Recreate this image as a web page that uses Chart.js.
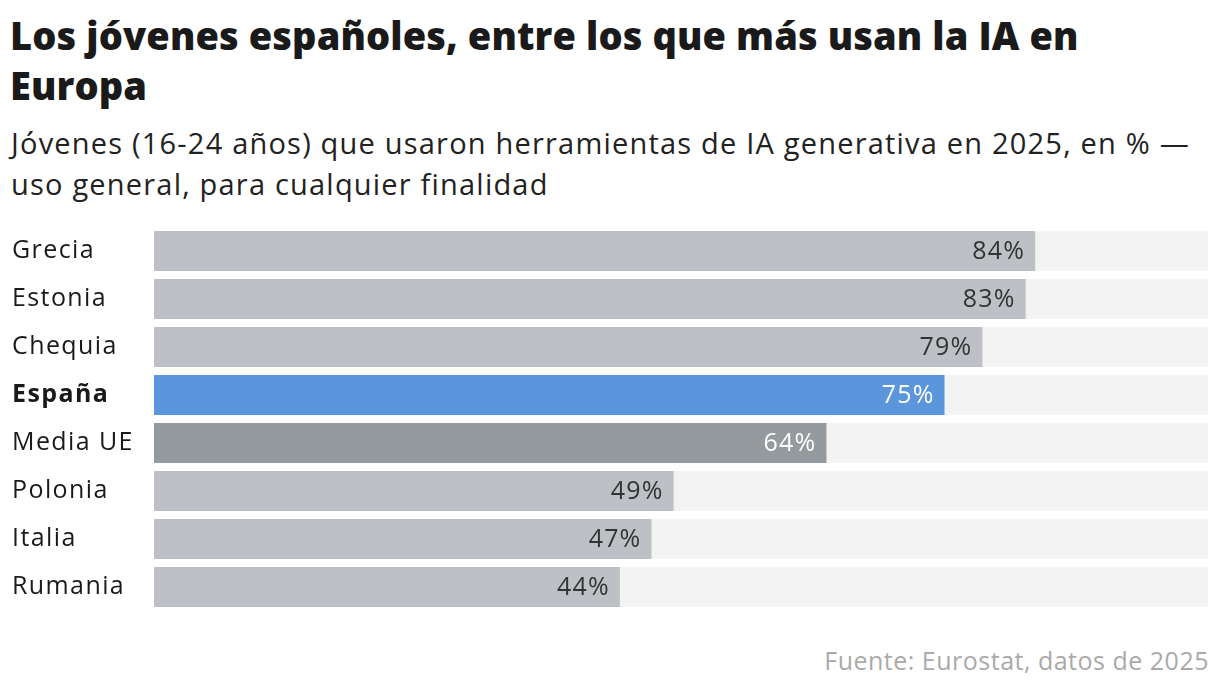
<!DOCTYPE html>
<html>
<head>
<meta charset="utf-8">
<script src="https://cdn.jsdelivr.net/npm/chart.js@4"></script>
<style>
  body { margin: 0; background: #fff; font-family: "Open Sans", sans-serif; color: #1a1a1a; }
  #wrap { position: relative; width: 1220px; height: 692px; }
  h1 { position: absolute; left: 10px; top: 10px; margin: 0; font-size: 38px; line-height: 50px; font-weight: 800; white-space: nowrap; letter-spacing: 0.1px; }
  .sub { position: absolute; left: 11px; top: 122px; font-size: 29px; line-height: 41px; color: #222; white-space: nowrap; letter-spacing: 1.2px; }
  .src { position: absolute; right: 11px; top: 643px; font-size: 25px; color: #aaa; letter-spacing: 0.5px; }
  #box { position: absolute; left: 0; top: 212px; width: 1220px; height: 414px; }
</style>
</head>
<body>
<div id="wrap">
  <h1>Los jóvenes españoles, entre los que más usan la IA en<br>Europa</h1>
  <div class="sub">Jóvenes (16-24 años) que usaron herramientas de IA generativa en 2025, en % —<br>uso general, para cualquier finalidad</div>
  <div id="box"><canvas id="chart"></canvas></div>
  <div class="src">Fuente: Eurostat, datos de 2025</div>
</div>
<script>
const countries = ['Grecia', 'Estonia', 'Chequia', 'España', 'Media UE', 'Polonia', 'Italia', 'Rumania']
const values = [83.6, 82.7, 78.6, 75.0, 63.8, 49.3, 47.2, 44.2]
const shown = ['84%', '83%', '79%', '75%', '64%', '49%', '47%', '44%']
const track = countries.map(() => 100)

const barColors = countries.map(c => c === 'España' ? '#5b95db' : (c === 'Media UE' ? '#959a9e' : '#bdc1c5'))
const textColors = countries.map(c => (c === 'España' || c === 'Media UE') ? '#ffffff' : '#333333')

// a bit of letter spacing so the canvas text is as wide as the original
const spacing = {
  id: 'spacing',
  beforeDraw(chart) { chart.ctx.letterSpacing = '1.4px' }
}

// writes the % at the end of each bar
const valueLabels = {
  id: 'valueLabels',
  afterDatasetsDraw(chart) {
    const ctx = chart.ctx
    const meta = chart.getDatasetMeta(1)
    ctx.save()
    ctx.font = '25px "Open Sans"'
    ctx.letterSpacing = '1.2px'
    ctx.textAlign = 'right'
    ctx.textBaseline = 'middle'
    meta.data.forEach((bar, i) => {
      ctx.fillStyle = textColors[i]
      ctx.fillText(shown[i], bar.x - 10, bar.y + 1)
    })
    ctx.restore()
  }
}

new Chart(document.getElementById('chart'), {
  type: 'bar',
  data: {
    labels: countries,
    datasets: [
      { data: track, backgroundColor: '#f3f3f3', order: 2, grouped: false },
      { data: values, backgroundColor: barColors, order: 1, grouped: false }
    ]
  },
  options: {
    indexAxis: 'y',
    responsive: true,
    maintainAspectRatio: false,
    animation: false,
    barPercentage: 1,
    categoryPercentage: 40 / 48,
    layout: { padding: { left: 12, right: 12, top: 0, bottom: 0 } },
    plugins: { legend: { display: false }, tooltip: { enabled: false } },
    scales: {
      x: { min: 0, max: 100, display: false },
      y: {
        grid: { display: false },
        border: { display: false },
        afterFit(axis) { axis.width = 142 },
        ticks: {
          crossAlign: 'far',
          padding: 0,
          color: '#1a1a1a',
          font: (c) => ({ family: 'Open Sans', size: 25, weight: countries[c.index] === 'España' ? 'bold' : 'normal' })
        }
      }
    }
  },
  plugins: [spacing, valueLabels]
})
</script>
</body>
</html>
